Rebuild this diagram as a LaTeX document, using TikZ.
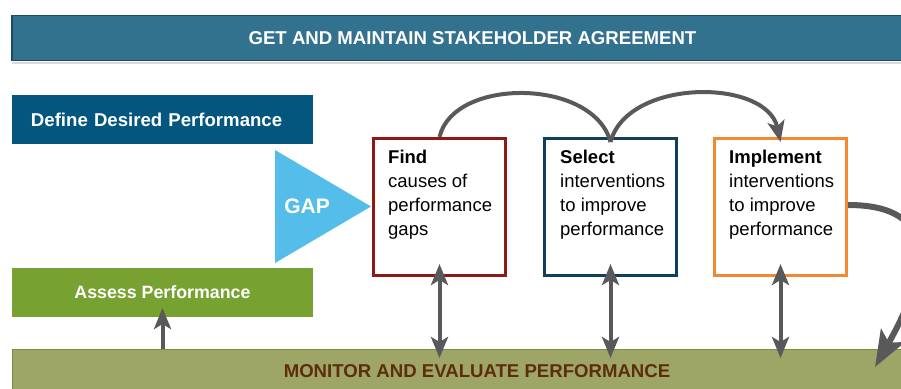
\documentclass[tikz,border=0pt]{standalone}
\usepackage{fontspec}
\setmainfont{Liberation Sans}
\usetikzlibrary{
  calc,
  arrows.meta,
  positioning,
}
\definecolor{bannerblue}{HTML}{33728F}
\definecolor{bannerline}{HTML}{1B4A63}
\definecolor{defineblue}{HTML}{04567F}
\definecolor{gapblue}{HTML}{55BDEA}
\definecolor{assessgreen}{HTML}{77A232}
\definecolor{monitorolive}{HTML}{9DA666}
\definecolor{monitorline}{HTML}{7E8A40}
\definecolor{monitortext}{HTML}{5E2D0C}
\definecolor{findred}{HTML}{8E1B13}
\definecolor{selectblue}{HTML}{0F3F5C}
\definecolor{implorange}{HTML}{F6892F}
\definecolor{arrowgray}{HTML}{59595B}
\tikzset{
  bar/.style = {
      rectangle,
      minimum height=45pt,
      inner sep=0pt, outer sep=0pt,
      font=\fontsize{18.6}{22}\selectfont\bfseries,
    },
  sidebox/.style = {
      rectangle,
      fill=#1,
      minimum width=301pt,
      minimum height=49pt,
      inner sep=0pt, outer sep=0pt,
      text=white,
      font=\fontsize{18.6}{22}\selectfont\bfseries,
    },
  stepbox/.style = {
      rectangle,
      draw=#1,
      line width=3pt,
      minimum width=132pt,
      minimum height=137pt,
      inner sep=0pt,
    },
  steptext/.style = {
      anchor=north west,
      align=left,
      inner sep=0pt,
      font=\fontsize{18.5}{24}\selectfont,
    },
  link/.style = {
      draw=arrowgray,
      line width=4pt,
    },
  tolink/.style = {
      link,
      -{Stealth[length=21pt, width=17pt, inset=5pt]},
    },
  bothlink/.style = {
      link,
      {Stealth[length=21pt, width=17pt, inset=5pt]}-{Stealth[length=21pt, width=17pt, inset=5pt]},
    },
  looplink/.style = {
      draw=arrowgray,
      line width=6pt,
      -{Stealth[length=36pt, width=27pt, inset=8pt]},
    },
}

\begin{document}
\begin{tikzpicture}[x=1pt, y=-1pt]
    \clip (0,0) rectangle (901,388);

    % bars across the page
    \node[bar, minimum width=921pt, fill=bannerblue, draw=bannerline, line width=1.5pt, text=white] (banner) at (472.5,38) {GET AND MAINTAIN STAKEHOLDER AGREEMENT};
    \draw[gray!30, line width=2pt] ([yshift=-2pt]banner.south west) -- ([yshift=-2pt]banner.south east);
    \node[bar, minimum width=930pt, fill=monitorolive, draw=monitorline, line width=1pt, text=monitortext] (monitor) at (477,371.5) {MONITOR AND EVALUATE PERFORMANCE};

    % left column
    \node[sidebox=defineblue, text width=301pt, align=left] (define) at (162.5,119.5) {\hspace*{19pt}Define Desired Performance};
    \node[sidebox=assessgreen, font=\fontsize{17.8}{22}\selectfont\bfseries] (assess) at (162.5,292.5) {Assess Performance};
    \fill[gapblue] (275,150) -- (275,263) -- (371,206.5) -- cycle;
    \node[text=white, font=\fontsize{21}{24}\selectfont\bfseries] (gap) at (307,206.5) {GAP};

    % the three steps
    \node[stepbox=findred] (find) at (439.5,207) {};
    \node[stepbox=selectblue, right=36pt of find] (select) {};
    \node[stepbox=implorange, right=35pt of select] (implement) {};
    \node[steptext] (findtxt) at ([shift={(16pt,-13pt)}]find.north west) {\textbf{Find}\\causes of\\performance\\gaps};
    \node[steptext] (selecttxt) at ([shift={(17pt,-13pt)}]select.north west) {\textbf{Select}\\interventions\\to improve\\performance};
    \node[steptext] (impltxt) at ([shift={(16pt,-13pt)}]implement.north west) {\textbf{Implement}\\interventions\\to improve\\performance};

    \coordinate (vtip) at ([yshift=-5pt]select.north);
    \coordinate (mtop) at ([yshift=-9pt]monitor.north);
    \coordinate (loopend) at (875,367);

    % hops over the top
    \draw[link] (find.north) .. controls +(14,-60) and +(-17,-64) .. (vtip);
    \draw[tolink] (vtip) .. controls +(17,-64) and +(-14,-64) .. ([yshift=-5pt]implement.north);
    \draw[looplink] ([yshift=2pt]implement.east) .. controls +(92,0) and +(55,-97) .. (loopend);

    % links down to monitoring
    \draw[tolink] (monitor.north -| assess.south) -- ([yshift=9pt]assess.south);
    \draw[bothlink] ([yshift=13pt]find.south) -- (find.south |- mtop);
    \draw[bothlink] ([yshift=13pt]select.south) -- (select.south |- mtop);
    \draw[bothlink] ([yshift=13pt]implement.south) -- (implement.south |- mtop);
  \end{tikzpicture}
\end{document}
